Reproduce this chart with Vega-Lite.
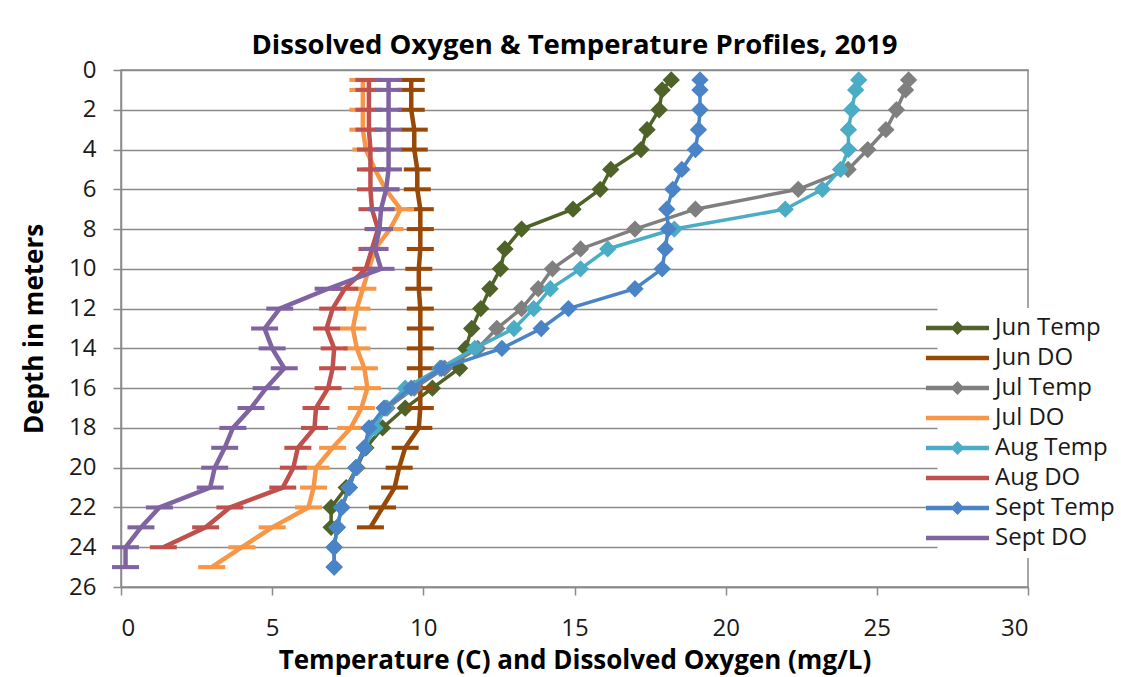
{
  "$schema": "https://vega.github.io/schema/vega-lite/v6.json",
  "width": 907,
  "height": 517,
  "autosize": {"type": "none"},
  "padding": {"left": 121, "top": 70, "right": 93, "bottom": 90},
  "background": "white",
  "config": {
    "font": "Open Sans",
    "view": {"stroke": "#8a8a8a", "strokeWidth": 1.5},
    "axis": {"labelFont": "Open Sans", "titleFont": "Open Sans", "labelColor": "#1a1a1a", "titleColor": "#000000", "domainColor": "#8a8a8a", "domainWidth": 1.5, "tickColor": "#8a8a8a", "tickWidth": 1.5, "gridColor": "#8a8a8a", "gridWidth": 1.5, "gridOpacity": 1}
  },
  "title": {"text": "Dissolved Oxygen & Temperature Profiles, 2019", "font": "Open Sans", "fontSize": 27.5, "fontWeight": "bold", "color": "#000000", "anchor": "middle", "frame": "group", "offset": 17, "dy": 18},
  "data": {"values": [
    {"s":"Jun Temp","d":0.5,"v":18.2},{"s":"Jun Temp","d":1,"v":17.9},{"s":"Jun Temp","d":2,"v":17.8},{"s":"Jun Temp","d":3,"v":17.4},{"s":"Jun Temp","d":4,"v":17.2},{"s":"Jun Temp","d":5,"v":16.2},{"s":"Jun Temp","d":6,"v":15.85},{"s":"Jun Temp","d":7,"v":14.95},{"s":"Jun Temp","d":8,"v":13.25},{"s":"Jun Temp","d":9,"v":12.7},{"s":"Jun Temp","d":10,"v":12.55},{"s":"Jun Temp","d":11,"v":12.2},{"s":"Jun Temp","d":12,"v":11.9},{"s":"Jun Temp","d":13,"v":11.6},{"s":"Jun Temp","d":14,"v":11.4},{"s":"Jun Temp","d":15,"v":11.2},{"s":"Jun Temp","d":16,"v":10.3},{"s":"Jun Temp","d":17,"v":9.4},{"s":"Jun Temp","d":18,"v":8.65},{"s":"Jun Temp","d":19,"v":8.1},{"s":"Jun Temp","d":20,"v":7.8},{"s":"Jun Temp","d":21,"v":7.45},{"s":"Jun Temp","d":22,"v":6.95},{"s":"Jun Temp","d":23,"v":6.95},
    {"s":"Jun DO","d":0.5,"v":9.6},{"s":"Jun DO","d":1,"v":9.6},{"s":"Jun DO","d":2,"v":9.6},{"s":"Jun DO","d":3,"v":9.7},{"s":"Jun DO","d":4,"v":9.7},{"s":"Jun DO","d":5,"v":9.8},{"s":"Jun DO","d":6,"v":9.8},{"s":"Jun DO","d":7,"v":9.9},{"s":"Jun DO","d":8,"v":9.9},{"s":"Jun DO","d":9,"v":9.9},{"s":"Jun DO","d":10,"v":9.85},{"s":"Jun DO","d":11,"v":9.85},{"s":"Jun DO","d":12,"v":9.9},{"s":"Jun DO","d":13,"v":9.9},{"s":"Jun DO","d":14,"v":9.9},{"s":"Jun DO","d":15,"v":9.9},{"s":"Jun DO","d":16,"v":9.9},{"s":"Jun DO","d":17,"v":9.9},{"s":"Jun DO","d":18,"v":9.85},{"s":"Jun DO","d":19,"v":9.4},{"s":"Jun DO","d":20,"v":9.2},{"s":"Jun DO","d":21,"v":9.05},{"s":"Jun DO","d":22,"v":8.65},{"s":"Jun DO","d":23,"v":8.25},
    {"s":"Jul Temp","d":0.5,"v":26.05},{"s":"Jul Temp","d":1,"v":25.95},{"s":"Jul Temp","d":2,"v":25.65},{"s":"Jul Temp","d":3,"v":25.3},{"s":"Jul Temp","d":4,"v":24.7},{"s":"Jul Temp","d":5,"v":24.05},{"s":"Jul Temp","d":6,"v":22.4},{"s":"Jul Temp","d":7,"v":19.0},{"s":"Jul Temp","d":8,"v":17.0},{"s":"Jul Temp","d":9,"v":15.2},{"s":"Jul Temp","d":10,"v":14.27},{"s":"Jul Temp","d":11,"v":13.8},{"s":"Jul Temp","d":12,"v":13.25},{"s":"Jul Temp","d":13,"v":12.43},{"s":"Jul Temp","d":14,"v":11.8},{"s":"Jul Temp","d":15,"v":10.7},{"s":"Jul Temp","d":16,"v":9.7},{"s":"Jul Temp","d":17,"v":8.8},{"s":"Jul Temp","d":18,"v":8.3},{"s":"Jul Temp","d":19,"v":8.05},{"s":"Jul Temp","d":20,"v":7.77},{"s":"Jul Temp","d":21,"v":7.55},{"s":"Jul Temp","d":22,"v":7.3},{"s":"Jul Temp","d":23,"v":7.15},{"s":"Jul Temp","d":24,"v":7.05},{"s":"Jul Temp","d":25,"v":7.05},
    {"s":"Jul DO","d":0.5,"v":8.0},{"s":"Jul DO","d":1,"v":8.0},{"s":"Jul DO","d":2,"v":8.0},{"s":"Jul DO","d":3,"v":8.0},{"s":"Jul DO","d":4,"v":8.1},{"s":"Jul DO","d":5,"v":8.4},{"s":"Jul DO","d":6,"v":8.75},{"s":"Jul DO","d":7,"v":9.25},{"s":"Jul DO","d":8,"v":8.9},{"s":"Jul DO","d":9,"v":8.4},{"s":"Jul DO","d":10,"v":8.2},{"s":"Jul DO","d":11,"v":8.0},{"s":"Jul DO","d":12,"v":7.8},{"s":"Jul DO","d":13,"v":7.67},{"s":"Jul DO","d":14,"v":7.8},{"s":"Jul DO","d":15,"v":8.05},{"s":"Jul DO","d":16,"v":8.15},{"s":"Jul DO","d":17,"v":7.95},{"s":"Jul DO","d":18,"v":7.6},{"s":"Jul DO","d":19,"v":7.0},{"s":"Jul DO","d":20,"v":6.45},{"s":"Jul DO","d":21,"v":6.37},{"s":"Jul DO","d":22,"v":6.2},{"s":"Jul DO","d":23,"v":5.0},{"s":"Jul DO","d":24,"v":4.0},{"s":"Jul DO","d":25,"v":3.0},
    {"s":"Aug Temp","d":0.5,"v":24.4},{"s":"Aug Temp","d":1,"v":24.3},{"s":"Aug Temp","d":2,"v":24.17},{"s":"Aug Temp","d":3,"v":24.06},{"s":"Aug Temp","d":4,"v":24.06},{"s":"Aug Temp","d":5,"v":23.8},{"s":"Aug Temp","d":6,"v":23.2},{"s":"Aug Temp","d":7,"v":21.97},{"s":"Aug Temp","d":8,"v":18.3},{"s":"Aug Temp","d":9,"v":16.1},{"s":"Aug Temp","d":10,"v":15.2},{"s":"Aug Temp","d":11,"v":14.2},{"s":"Aug Temp","d":12,"v":13.65},{"s":"Aug Temp","d":13,"v":13.0},{"s":"Aug Temp","d":14,"v":11.7},{"s":"Aug Temp","d":15,"v":10.55},{"s":"Aug Temp","d":16,"v":9.4},{"s":"Aug Temp","d":17,"v":8.75},{"s":"Aug Temp","d":18,"v":8.4},{"s":"Aug Temp","d":19,"v":8.05},{"s":"Aug Temp","d":20,"v":7.77},{"s":"Aug Temp","d":21,"v":7.55},{"s":"Aug Temp","d":22,"v":7.3},{"s":"Aug Temp","d":23,"v":7.15},{"s":"Aug Temp","d":24,"v":7.05},
    {"s":"Aug DO","d":0.5,"v":8.2},{"s":"Aug DO","d":1,"v":8.2},{"s":"Aug DO","d":2,"v":8.2},{"s":"Aug DO","d":3,"v":8.2},{"s":"Aug DO","d":4,"v":8.25},{"s":"Aug DO","d":5,"v":8.25},{"s":"Aug DO","d":6,"v":8.25},{"s":"Aug DO","d":7,"v":8.3},{"s":"Aug DO","d":8,"v":8.5},{"s":"Aug DO","d":9,"v":8.3},{"s":"Aug DO","d":10,"v":8.1},{"s":"Aug DO","d":11,"v":7.4},{"s":"Aug DO","d":12,"v":7.0},{"s":"Aug DO","d":13,"v":6.8},{"s":"Aug DO","d":14,"v":7.05},{"s":"Aug DO","d":15,"v":7.0},{"s":"Aug DO","d":16,"v":6.85},{"s":"Aug DO","d":17,"v":6.45},{"s":"Aug DO","d":18,"v":6.4},{"s":"Aug DO","d":19,"v":5.85},{"s":"Aug DO","d":20,"v":5.7},{"s":"Aug DO","d":21,"v":5.35},{"s":"Aug DO","d":22,"v":3.6},{"s":"Aug DO","d":23,"v":2.8},{"s":"Aug DO","d":24,"v":1.4},
    {"s":"Sept Temp","d":0.5,"v":19.15},{"s":"Sept Temp","d":1,"v":19.15},{"s":"Sept Temp","d":2,"v":19.15},{"s":"Sept Temp","d":3,"v":19.1},{"s":"Sept Temp","d":4,"v":19.0},{"s":"Sept Temp","d":5,"v":18.55},{"s":"Sept Temp","d":6,"v":18.25},{"s":"Sept Temp","d":7,"v":18.05},{"s":"Sept Temp","d":8,"v":18.1},{"s":"Sept Temp","d":9,"v":18.0},{"s":"Sept Temp","d":10,"v":17.9},{"s":"Sept Temp","d":11,"v":17.0},{"s":"Sept Temp","d":12,"v":14.8},{"s":"Sept Temp","d":13,"v":13.9},{"s":"Sept Temp","d":14,"v":12.6},{"s":"Sept Temp","d":15,"v":10.6},{"s":"Sept Temp","d":16,"v":9.6},{"s":"Sept Temp","d":17,"v":8.7},{"s":"Sept Temp","d":18,"v":8.2},{"s":"Sept Temp","d":19,"v":8.05},{"s":"Sept Temp","d":20,"v":7.77},{"s":"Sept Temp","d":21,"v":7.55},{"s":"Sept Temp","d":22,"v":7.3},{"s":"Sept Temp","d":23,"v":7.15},{"s":"Sept Temp","d":24,"v":7.05},{"s":"Sept Temp","d":25,"v":7.05},
    {"s":"Sept DO","d":0.5,"v":8.85},{"s":"Sept DO","d":1,"v":8.85},{"s":"Sept DO","d":2,"v":8.85},{"s":"Sept DO","d":3,"v":8.85},{"s":"Sept DO","d":4,"v":8.85},{"s":"Sept DO","d":5,"v":8.85},{"s":"Sept DO","d":6,"v":8.77},{"s":"Sept DO","d":7,"v":8.6},{"s":"Sept DO","d":8,"v":8.55},{"s":"Sept DO","d":9,"v":8.4},{"s":"Sept DO","d":10,"v":8.6},{"s":"Sept DO","d":11,"v":6.85},{"s":"Sept DO","d":12,"v":5.25},{"s":"Sept DO","d":13,"v":4.75},{"s":"Sept DO","d":14,"v":5.0},{"s":"Sept DO","d":15,"v":5.4},{"s":"Sept DO","d":16,"v":4.8},{"s":"Sept DO","d":17,"v":4.3},{"s":"Sept DO","d":18,"v":3.7},{"s":"Sept DO","d":19,"v":3.43},{"s":"Sept DO","d":20,"v":3.1},{"s":"Sept DO","d":21,"v":2.95},{"s":"Sept DO","d":22,"v":1.27},{"s":"Sept DO","d":23,"v":0.66},{"s":"Sept DO","d":24,"v":0.15},{"s":"Sept DO","d":25,"v":0.15}
  ]},
  "encoding": {
    "x": {"field": "v", "type": "quantitative", "scale": {"domain": [0, 30], "nice": false, "zero": false},
      "axis": {"values": [0, 5, 10, 15, 20, 25, 30], "grid": false, "tickSize": 8, "labelFontSize": 24, "labelPadding": 21, "title": "Temperature (C) and Dissolved Oxygen (mg/L)", "titleFontSize": 26, "titleFontWeight": "bold", "titlePadding": 7}},
    "y": {"field": "d", "type": "quantitative", "scale": {"domain": [0, 26], "reverse": true, "nice": false, "zero": false},
      "axis": {"values": [0, 2, 4, 6, 8, 10, 12, 14, 16, 18, 20, 22, 24, 26], "grid": true, "tickSize": 8, "labelFontSize": 24, "labelPadding": 17, "title": "Depth in meters", "titleFontSize": 26, "titleFontWeight": "bold", "titlePadding": 21}},
    "color": {"field": "s", "type": "nominal",
      "scale": {"domain": ["Jun Temp", "Jun DO", "Jul Temp", "Jul DO", "Aug Temp", "Aug DO", "Sept Temp", "Sept DO"],
        "range": ["#4f6228", "#984807", "#7f7f7f", "#f79646", "#4bacc6", "#c0504d", "#4a84c6", "#8064a2"]},
      "legend": {"title": null, "orient": "none", "legendX": 816.5, "legendY": 238, "fillColor": "white", "padding": 8, "labelFont": "Open Sans", "labelFontSize": 24, "labelColor": "#1a1a1a", "labelOffset": 25.5, "rowPadding": 5, "symbolSize": 100, "symbolStrokeWidth": 4.5,
        "encode": {"symbols": {"update": {
          "shape": {"signal": "indexof(datum.value, 'Temp') >= 0 ? 'M-6.3,0H6.3M-0.76,0L0,-0.76L0.76,0L0,0.76Z' : 'M-6.3,0H6.3'"},
          "fill": {"scale": "color", "field": "value"},
          "stroke": {"scale": "color", "field": "value"},
          "strokeWidth": {"value": 4.5},
          "opacity": {"value": 1}
        }}}}},
    "order": {"field": "d", "type": "quantitative"}
  },
  "layer": [
    {"transform": [{"filter": {"field": "s", "equal": "Jun Temp"}}], "mark": {"type": "line", "strokeWidth": 3.5, "point": {"shape": "diamond", "size": 300, "filled": true, "opacity": 1}}},
    {"transform": [{"filter": {"field": "s", "equal": "Jun DO"}}], "mark": {"type": "line", "strokeWidth": 4.5, "point": {"shape": "M-1,-0.15H1V0.15H-1Z", "size": 729, "filled": true, "opacity": 1}}},
    {"transform": [{"filter": {"field": "s", "equal": "Jul Temp"}}], "mark": {"type": "line", "strokeWidth": 3.5, "point": {"shape": "diamond", "size": 300, "filled": true, "opacity": 1}}},
    {"transform": [{"filter": {"field": "s", "equal": "Jul DO"}}], "mark": {"type": "line", "strokeWidth": 4.5, "point": {"shape": "M-1,-0.15H1V0.15H-1Z", "size": 729, "filled": true, "opacity": 1}}},
    {"transform": [{"filter": {"field": "s", "equal": "Aug Temp"}}], "mark": {"type": "line", "strokeWidth": 3.5, "point": {"shape": "diamond", "size": 300, "filled": true, "opacity": 1}}},
    {"transform": [{"filter": {"field": "s", "equal": "Aug DO"}}], "mark": {"type": "line", "strokeWidth": 4.5, "point": {"shape": "M-1,-0.15H1V0.15H-1Z", "size": 729, "filled": true, "opacity": 1}}},
    {"transform": [{"filter": {"field": "s", "equal": "Sept Temp"}}], "mark": {"type": "line", "strokeWidth": 3.5, "point": {"shape": "diamond", "size": 300, "filled": true, "opacity": 1}}},
    {"transform": [{"filter": {"field": "s", "equal": "Sept DO"}}], "mark": {"type": "line", "strokeWidth": 4.5, "point": {"shape": "M-1,-0.15H1V0.15H-1Z", "size": 729, "filled": true, "opacity": 1}}}
  ]
}
